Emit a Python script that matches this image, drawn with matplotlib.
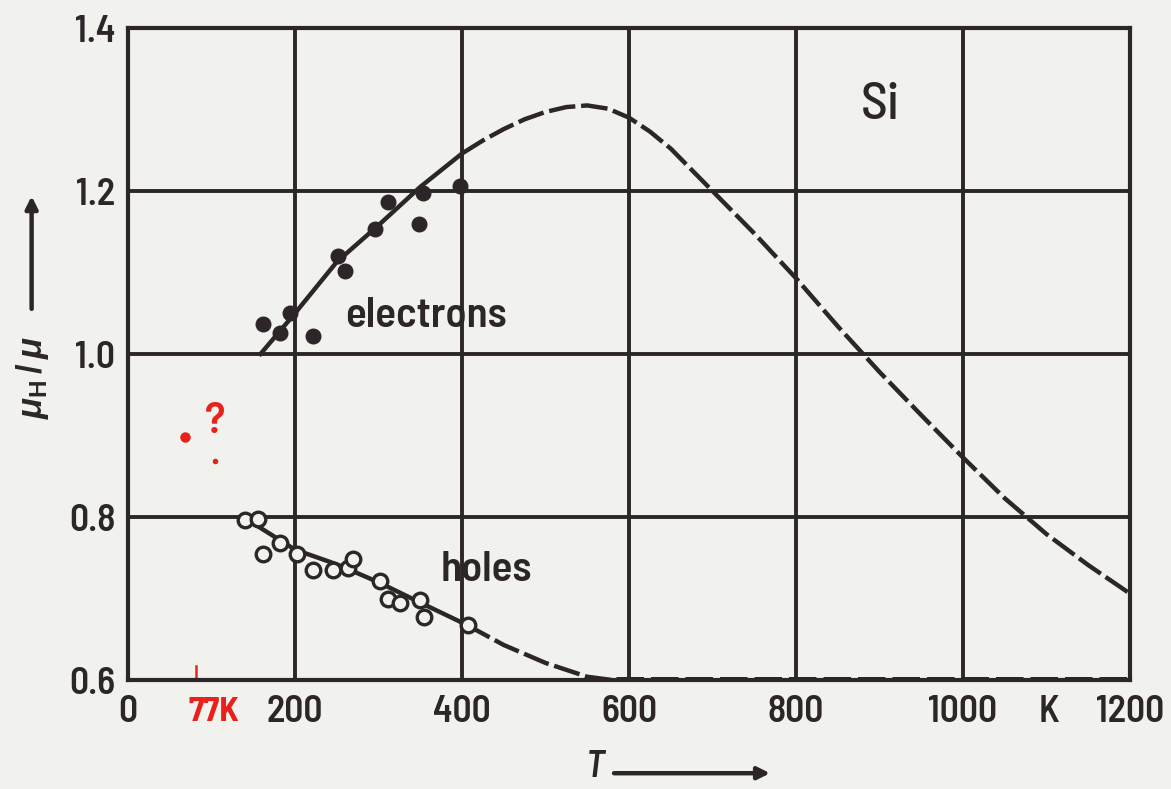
import matplotlib
matplotlib.use("Agg")
import matplotlib.pyplot as plt
import matplotlib.patches as mpatches

# ---- data ----
elec_T = [162, 182, 194, 221, 251, 260, 296, 311, 348, 353, 398]
elec_ratio = [1.037, 1.026, 1.050, 1.022, 1.120, 1.102, 1.154, 1.187, 1.160, 1.197, 1.206]

hole_T = [140, 156, 162, 182, 203, 221, 246, 263, 270, 302, 311, 326, 350, 354, 407]
hole_ratio = [0.796, 0.798, 0.755, 0.768, 0.755, 0.735, 0.735, 0.737, 0.749, 0.722,
              0.700, 0.695, 0.698, 0.677, 0.667]

elec_fit_T = [157, 200, 250, 300, 350, 400]
elec_fit = [0.998, 1.050, 1.113, 1.158, 1.205, 1.246]
elec_ext_T = [400, 425, 450, 475, 500, 525, 550, 575, 600, 625, 650, 700, 750, 800,
              850, 900, 950, 1000, 1050, 1100, 1150, 1200]
elec_ext = [1.246, 1.262, 1.276, 1.288, 1.297, 1.303, 1.305, 1.301, 1.290, 1.273,
            1.252, 1.200, 1.148, 1.093, 1.034, 0.978, 0.925, 0.873, 0.823, 0.779,
            0.741, 0.706]

hole_fit_T = [138, 200, 250, 300, 350, 405]
hole_fit = [0.800, 0.760, 0.742, 0.720, 0.695, 0.668]
hole_ext_T = [405, 450, 500, 550, 580]
hole_ext = [0.668, 0.643, 0.621, 0.604, 0.600]
hole_flat_T = [585, 1200]
hole_flat = [0.601, 0.601]

x_ticks = [0, 200, 400, 600, 800, 1000, 1200]
unit_tick = [1103]
y_ticks = [0.6, 0.8, 1.0, 1.2, 1.4]
y_ticklabels = ["0.6", "0.8", "1.0", "1.2", "1.4"]

INK = "#2d2628"
BG = "#f1f2ee"
RED = "#e8211c"

FONT = ['Barlow Semi Condensed', 'Roboto Condensed', 'Liberation Sans', 'DejaVu Sans']
plt.rcParams['font.family'] = FONT
plt.rcParams['mathtext.fontset'] = 'custom'
plt.rcParams['mathtext.rm'] = 'Liberation Sans:bold'
plt.rcParams['mathtext.it'] = 'Liberation Sans:italic:bold'

fig = plt.figure(figsize=(11.71, 7.89), dpi=100, facecolor=BG)
ax = fig.add_axes([0.1093, 0.1381, 0.8557, 0.8264], facecolor=BG)
ax.set_xlim(0, 1200)
ax.set_ylim(0.6, 1.4)

ax.set_xticks(x_ticks)
ax.set_xticklabels([str(t) for t in x_ticks])
ax.set_xticks(unit_tick, minor=True)
ax.set_xticklabels(["K"], minor=True)
ax.set_yticks(y_ticks)
ax.set_yticklabels(y_ticklabels)
ax.tick_params(which='both', length=0, labelsize=27, colors=INK, pad=11)
ax.tick_params(axis='y', pad=9)
for lab in ax.get_xticklabels() + ax.get_yticklabels() + ax.get_xticklabels(minor=True):
    lab.set_fontweight('semibold')
ax.grid(True, which='major', color=INK, lw=2.8)
ax.set_axisbelow(True)
for s in ax.spines.values():
    s.set_color(INK)
    s.set_linewidth(3.0)

dash = (0, (6, 1.3))
# electrons
ax.plot(elec_fit_T, elec_fit, color=INK, lw=3.2, solid_capstyle='butt')
ax.plot(elec_ext_T, elec_ext, color=INK, lw=3.2, linestyle=dash, dash_capstyle='butt')
ax.plot(elec_T, elec_ratio, 'o', color=INK, ms=10.5)
# holes
ax.plot(hole_fit_T, hole_fit, color=INK, lw=3.2)
ax.plot(hole_ext_T, hole_ext, color=INK, lw=3.2, linestyle=dash, dash_capstyle='butt')
ax.plot(hole_flat_T, hole_flat, color=INK, lw=3.6, linestyle=(0, (5.5, 1.4)),
        dash_capstyle='butt', clip_on=False)
ax.plot(hole_T, hole_ratio, 'o', mfc=BG, mec=INK, mew=2.4, ms=10.5)

ax.text(260, 1.047, "electrons", fontsize=31, fontweight='semibold', color=INK, va='center')
ax.text(375, 0.735, "holes", fontsize=31, fontweight='semibold', color=INK, va='center')
ax.text(878, 1.305, "Si", fontsize=38, fontweight='medium', color=INK, va='center')

# red handwritten annotations
ax.plot([82, 82], [0.6, 0.617], color=RED, lw=1.8, clip_on=False)
ax.annotate("77K", xy=(103, 0.6), xytext=(0, -12), textcoords='offset points',
            color=RED, fontsize=25, fontweight='bold', ha='center', va='top',
            annotation_clip=False)
ax.plot([68], [0.898], 'o', color=RED, ms=6.5)
ax.text(104, 0.917, "?", color=RED, fontsize=32, fontweight='semibold', ha='center',
        va='center')
ax.plot([104], [0.869], 'o', color=RED, ms=3)

# axis labels with arrows
fig.text(0.028, 0.522, r"$\mu_\mathrm{H}\,/\,\mu$", rotation=90, fontsize=25, color=INK,
         ha='center', va='center')
fig.add_artist(mpatches.FancyArrowPatch((0.027, 0.605), (0.027, 0.755),
               transform=fig.transFigure, arrowstyle='-|>', mutation_scale=18,
               color=INK, lw=3.2))
fig.text(0.508, 0.006, "T", fontsize=27, fontweight='semibold', color=INK, ha='center',
         va='bottom', style='italic')
fig.add_artist(mpatches.FancyArrowPatch((0.522, 0.02), (0.66, 0.02),
               transform=fig.transFigure, arrowstyle='-|>', mutation_scale=18,
               color=INK, lw=3.2))

fig.savefig("out.png", dpi=100, facecolor=BG)
